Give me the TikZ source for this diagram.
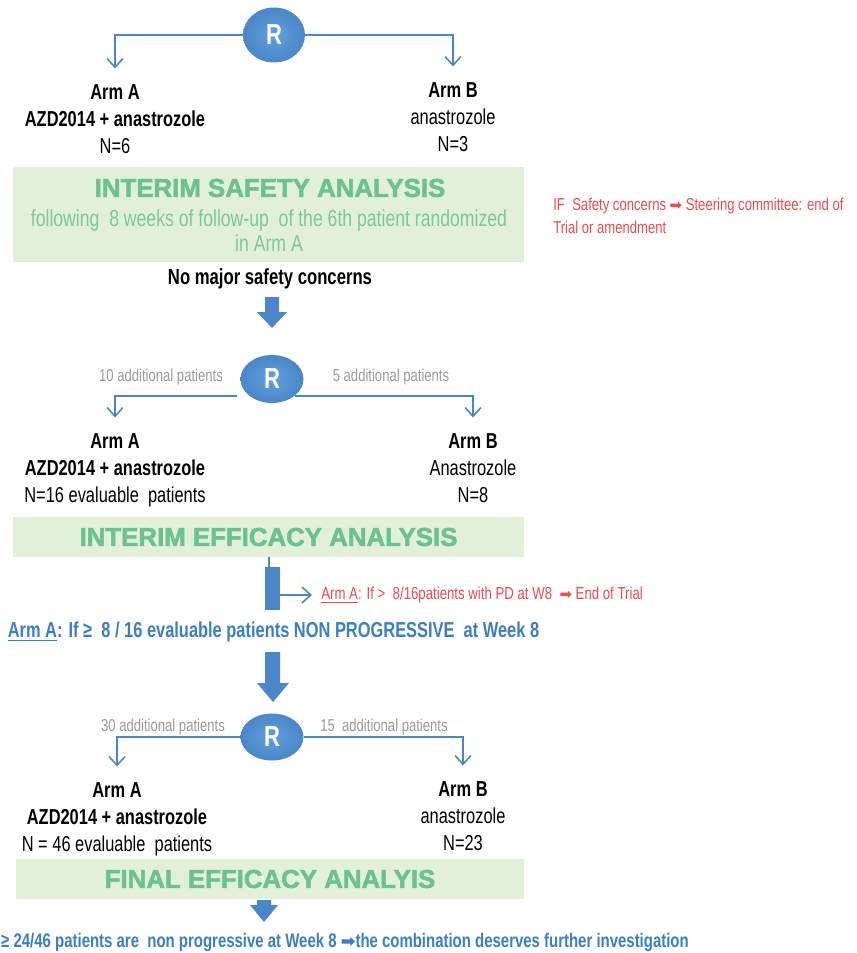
\documentclass[tikz,border=0pt]{standalone}
\usepackage{fontspec}
\setmainfont{Liberation Sans}[FakeStretch=0.76]
\newfontfamily\headfont{Liberation Sans Bold}[FakeBold=2]
\newfontfamily\symfont{DejaVu Sans}
\usetikzlibrary{positioning,shapes.geometric,arrows.meta}
\usepackage{xcolor}

\definecolor{rblue}{HTML}{4A86C8}
\definecolor{rlight}{HTML}{62A0DD}
\definecolor{boxgreen}{HTML}{E2EFD9}
\definecolor{headgreen}{HTML}{6CC28E}
\definecolor{notegreen}{HTML}{7CC89C}
\definecolor{alertred}{HTML}{EE4B4B}
\definecolor{addgray}{HTML}{9A9A9A}
\definecolor{textblue}{HTML}{3C7EC2}

\tikzset{
	rnode/.style={ellipse, inner color=rlight, outer color=rblue, text=white, inner sep=0pt, font=\fontsize{16.5}{19}\selectfont\bfseries},
	armtxt/.style={anchor=north, align=center, inner sep=0pt, font=\fontsize{12.3}{15.4}\selectfont},
	flow/.style={draw=rblue, line width=0.9pt, -{Straight Barb[length=5pt, width=9pt]}, shorten >=0.31cm},
	link/.style={draw=rblue, line width=0.9pt},
	gbox/.style={rectangle, fill=boxgreen, inner sep=0pt},
	headtxt/.style={text=headgreen, font=\headfont\fontsize{14.7}{17}\selectfont},
	notetxt/.style={text=notegreen, align=center, inner sep=0pt, font=\fontsize{13.2}{14.2}\selectfont},
	alerttxt/.style={text=alertred, inner sep=0pt},
	addtxt/.style={text=addgray, inner sep=0pt, font=\fontsize{9.8}{12}\selectfont},
	bluetxt/.style={text=textblue, inner sep=0pt, font=\bfseries},
	gatebar/.style={rectangle, fill=rblue, inner sep=0pt, minimum width=0.3cm, minimum height=0.86cm}
}

\begin{document}
\begin{tikzpicture}[x=0.02cm, y=-0.02cm]
	\useasboundingbox (0,0) rectangle (856,953);
	
	% First randomisation
	\node[rnode, minimum width=1.24cm, minimum height=1.1cm] (R1) at (274,35) {R};
	\node[armtxt] (armA1) at (115,84) {\bfseries Arm A\\ \bfseries AZD2014 + anastrozole\\ N=6};
	\node[armtxt] (armB1) at (453,82) {\bfseries Arm B\\ anastrozole\\ N=3};
	\draw[flow] (R1.west) -| (armA1.north);
	\draw[flow] (R1.east) -| (armB1.north);
	
	% Interim safety analysis
	\node[gbox, minimum width=10.22cm, minimum height=1.9cm] (safetybox) at (268.5,214.5) {};
	\node[headtxt] (safetytitle) at (270,188) {INTERIM SAFETY ANALYSIS};
	\node[notetxt] (safetynote) at (269,231) {following\ \ 8 weeks of follow-up\ \ of the 6th patient randomized\\ in Arm A};
	\node[alerttxt, anchor=west, align=left, font=\fontsize{9.8}{13}\selectfont] (stopnote) at (553,216) {IF\ \ Safety concerns {\symfont\fontsize{8.5}{13}\selectfont ➡} Steering committee: end of\\ Trial or amendment};
	\node[inner sep=0pt, font=\fontsize{12.5}{15}\selectfont\bfseries] (nomajor) at (270,279) {No major safety concerns};
	\fill[rblue] (265,297) -- (279,297) -- (279,312) -- (287,312) -- (272,328) -- (257,312) -- (265,312) -- cycle;
	
	% Second randomisation
	\node[rnode, minimum width=1.26cm, minimum height=0.96cm] (R2) at (272,379) {R};
	\node[addtxt] (add10) at (161,377) {10 additional patients};
	\node[addtxt] (add5) at (391,377) {5 additional patients};
	\node[armtxt] (armA2) at (115,433) {\bfseries Arm A\\ \bfseries AZD2014 + anastrozole\\ N=16 evaluable\ \ patients};
	\node[armtxt] (armB2) at (473,433) {\bfseries Arm B\\ Anastrozole\\ N=8};
	\draw[flow] ([xshift=-0.25cm]R2.south west) -| (armA2.north);
	\draw[flow] (R2.south east) -| (armB2.north);
	
	% Interim efficacy analysis
	\node[gbox, minimum width=10.22cm, minimum height=0.8cm, headtxt] (effbox) at (268.5,537) {INTERIM EFFICACY ANALYSIS};
	\node[gatebar] (gate) at (272.5,588.5) {};
	\draw[link] ([xshift=-0.07cm]gate.north) -- ([xshift=-0.07cm]gate.north |- effbox.south);
	\node[alerttxt, anchor=west, font=\fontsize{9.9}{12}\selectfont] (pdnote) at (321,595) {\underline{Arm A}: If >\ \ 8/16patients with PD at W8\ \ {\symfont\fontsize{8.5}{12}\selectfont ➡} End of Trial};
	\draw[flow, shorten >=0.18cm] (gate.east |- pdnote.west) -- (pdnote.west);
	\node[bluetxt, font=\fontsize{12.3}{15}\selectfont\bfseries] (goline) at (273.5,632) {\underline{Arm A}: If ≥\ \ 8 / 16 evaluable patients NON PROGRESSIVE\ \ at Week 8};
	\fill[rblue] (265,652) -- (280,652) -- (280,683) -- (289,683) -- (273,702) -- (257,683) -- (265,683) -- cycle;
	
	% Third randomisation
	\node[rnode, minimum width=1.26cm, minimum height=0.94cm] (R3) at (272,737) {R};
	\node[addtxt] (add30) at (163,727) {30 additional patients};
	\node[addtxt] (add15) at (384,727) {15\ \ additional patients};
	\node[armtxt] (armA3) at (117,782) {\bfseries Arm A\\ \bfseries AZD2014 + anastrozole\\ N = 46 evaluable\ \ patients};
	\node[armtxt] (armB3) at (463,781) {\bfseries Arm B\\ anastrozole\\ N=23};
	\draw[flow] (R3.west) -| (armA3.north);
	\draw[flow] (R3.east) -| (armB3.north);
	
	% Final efficacy analysis
	\node[gbox, minimum width=10.16cm, minimum height=0.8cm, headtxt] (finalbox) at (270,879) {FINAL EFFICACY ANALYIS};
	\fill[rblue] (257,900) -- (271,900) -- (271,905) -- (278,905) -- (264,922) -- (250,905) -- (257,905) -- cycle;
	\node[bluetxt, font=\fontsize{11.2}{13}\selectfont\bfseries] (verdict) at (345,942) {≥ 24/46 patients are\ \ non progressive at Week 8 {\symfont\fontsize{10}{13}\selectfont ➡}the combination deserves further investigation};
	
\end{tikzpicture}
\end{document}
